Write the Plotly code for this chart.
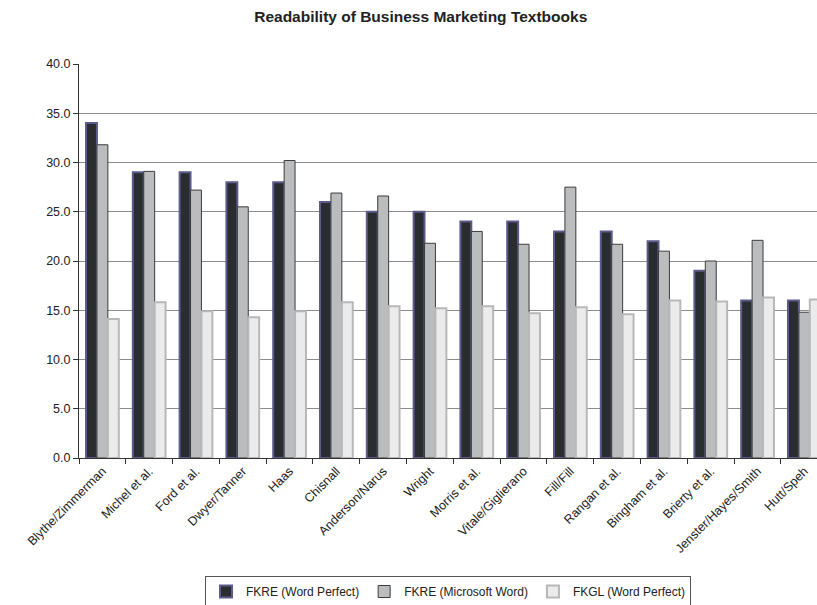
import plotly.graph_objects as go

categories = ["Blythe/Zimmerman", "Michel et al.", "Ford et al.", "Dwyer/Tanner", "Haas",
              "Chisnall", "Anderson/Narus", "Wright", "Morris et al.", "Vitale/Giglierano",
              "Fill/Fill", "Rangan et al.", "Bingham et al.", "Brierty et al.",
              "Jenster/Hayes/Smith", "Hutt/Speh"]
fkre_wp = [34, 29, 29, 28, 28, 26, 25, 25, 24, 24, 23, 23, 22, 19, 16, 16]
fkre_ms = [31.8, 29.1, 27.2, 25.5, 30.2, 26.9, 26.6, 21.8, 23.0, 21.7, 27.5, 21.7, 21.0, 20.0, 22.1, 14.8]
fkgl_wp = [14.1, 15.8, 14.9, 14.3, 14.9, 15.8, 15.4, 15.2, 15.4, 14.7, 15.3, 14.6, 16.0, 15.9, 16.3, 16.1]
y_ticks = [0, 5, 10, 15, 20, 25, 30, 35, 40]

font_family = "Liberation Sans, Arial, sans-serif"

fig = go.Figure()
fig.add_trace(go.Bar(x=categories, y=fkre_wp, name="FKRE (Word Perfect)",
                     marker=dict(color="#2a2d30", line=dict(color="#5c5c8c", width=2))))
fig.add_trace(go.Bar(x=categories, y=fkre_ms, name="FKRE (Microsoft Word)",
                     marker=dict(color="#bbbcbe", line=dict(color="#3c3c3c", width=1))))
fig.add_trace(go.Bar(x=categories, y=fkgl_wp, name="FKGL (Word Perfect)",
                     marker=dict(color="#ebebeb", line=dict(color="#b8b8b8", width=2))))

fig.update_layout(
    width=817, height=605,
    autosize=False,
    margin=dict(l=79, r=0, t=64, b=147, autoexpand=False),
    paper_bgcolor="white", plot_bgcolor="white",
    barmode="group", bargap=0.3, bargroupgap=0,
    font=dict(family=font_family, size=12, color="#222222"),
    title=dict(text="<b>Readability of Business Marketing Textbooks</b>",
               x=0.515, xref="container", xanchor="center",
               y=0.972, yref="container", yanchor="middle",
               font=dict(size=15.5, color="#222222", family=font_family)),
    showlegend=True,
    legend=dict(orientation="h", x=0.5, xanchor="center",
                y=-0.2995, yanchor="top",
                bordercolor="#555555", borderwidth=1, bgcolor="white",
                itemwidth=30, font=dict(size=12, color="#222222"),
                tracegroupgap=0),
)
fig.update_xaxes(range=[-0.5, 15.27], tickangle=-45, showgrid=False,
                 automargin=False,
                 showline=True, linecolor="#333333", linewidth=1,
                 ticks="outside", ticklen=5, tickcolor="#333333",
                 tickson="boundaries",
                 tickfont=dict(size=12.5, color="#222222"))
fig.update_yaxes(range=[0, 40], tickvals=y_ticks,
                 ticktext=[f"{v:.1f}" for v in y_ticks],
                 automargin=False,
                 showgrid=True, gridcolor="#8c8c8c", gridwidth=1,
                 showline=True, linecolor="#333333", linewidth=1,
                 ticks="outside", ticklen=5, tickcolor="#333333",
                 zeroline=False,
                 tickfont=dict(size=12.5, color="#222222"))

fig.write_html("out.html",
               config={"displayModeBar": False},
               post_script="document.body.style.margin='0';document.body.style.overflow='hidden';")
